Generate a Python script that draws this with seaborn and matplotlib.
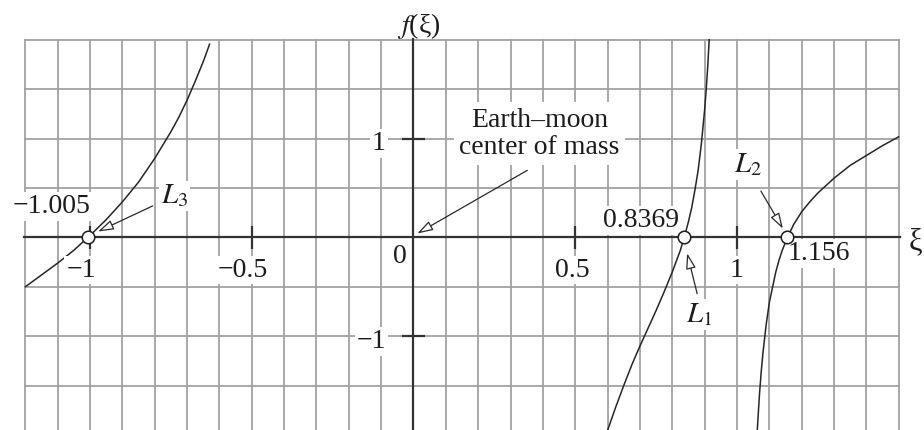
import numpy as np
import pandas as pd
import matplotlib
matplotlib.use("Agg")
import matplotlib.pyplot as plt
import seaborn as sns

# f(xi) along the three branches (left of Earth, between Earth and Moon, beyond Moon)
l3_xi = [-1.2, -1.15, -1.1, -1.05, -1.0, -0.95, -0.9, -0.85, -0.8, -0.75,
         -0.725, -0.7, -0.675, -0.65, -0.63]
l3_f = [-0.50, -0.38, -0.26, -0.13, 0.02, 0.18, 0.36, 0.56, 0.80, 1.07,
        1.22, 1.39, 1.58, 1.78, 1.96]

l1_xi = [0.595, 0.625, 0.65, 0.675, 0.7, 0.725, 0.75, 0.775, 0.8, 0.825,
         0.8369, 0.85, 0.86, 0.87, 0.88, 0.89, 0.9, 0.905, 0.91, 0.915]
l1_f = [-2.0, -1.72, -1.50, -1.29, -1.10, -0.92, -0.74, -0.55, -0.35, -0.13,
        0.0, 0.16, 0.30, 0.48, 0.68, 0.95, 1.29, 1.50, 1.75, 2.06]

l2_xi = [1.062, 1.065, 1.07, 1.075, 1.08, 1.09, 1.1, 1.12, 1.13, 1.14, 1.156,
         1.175, 1.2, 1.225, 1.25, 1.3, 1.35, 1.4, 1.45, 1.5]
l2_f = [-2.0, -1.83, -1.57, -1.36, -1.18, -0.89, -0.66, -0.35, -0.23, -0.13, 0.0,
        0.13, 0.26, 0.36, 0.45, 0.60, 0.73, 0.83, 0.93, 1.02]

# Lagrange point roots of f(xi)
root_xi = [-1.005, 0.8369, 1.156]
root_text = ["\u22121.005", "0.8369", "1.156"]
root_text_xy = [(-1.12, 0.31), (0.704, 0.17), (1.253, -0.16)]

point_names = [r"$L_3$", r"$L_1$", r"$L_2$"]
point_name_xy = [(-0.738, 0.42), (0.883, -0.78), (1.034, 0.74)]
point_arrow_from = [(-0.806, 0.32), (0.877, -0.57), (1.074, 0.47)]
point_arrow_to = [(-0.975, 0.06), (0.846, -0.16), (1.142, 0.09)]

xtick_vals = [-1, -0.5, 0.5, 1]
xtick_text = ["\u22121", "\u22120.5", "0.5", "1"]
xtick_text_x = [-1.028, -0.528, 0.491, 1.0]
ytick_vals = [-1, 1]
ytick_text = ["\u22121", "1"]

branches = pd.DataFrame({
    "xi": l3_xi + l1_xi + l2_xi,
    "f": l3_f + l1_f + l2_f,
    "branch": ["L3"] * len(l3_xi) + ["L1"] * len(l1_xi) + ["L2"] * len(l2_xi),
})

sns.set_style("white")
plt.rcParams["font.family"] = ["Liberation Serif", "DejaVu Serif"]
plt.rcParams["mathtext.fontset"] = "stix"
plt.rcParams["axes.unicode_minus"] = True

ink = "#1c1c1c"
grid_c = "#a2a2a2"
axis_c = "#333333"
fs = 20

fig = plt.figure(figsize=(9.24, 4.30), dpi=100)
ax = fig.add_axes([24 / 924, 0.0, 876 / 924, 391 / 430])

for name in ["L3", "L1", "L2"]:
    sns.lineplot(data=branches[branches["branch"] == name], x="xi", y="f",
                 sort=False, estimator=None, color="#262626", lw=1.1,
                 ax=ax, zorder=4)
ax.set_xlabel("")
ax.set_ylabel("")

ax.set_xlim(-1.2 - 0.004, 1.5 + 0.004)
ax.set_ylim(-1.95, 2.0 + 0.01)

# fine grid: every 0.1 in xi, every 0.5 in f
ax.set_xticks(np.round(np.arange(-1.2, 1.5001, 0.1), 2))
ax.set_yticks(np.arange(-1.5, 2.0001, 0.5))
ax.set_xticklabels([])
ax.set_yticklabels([])
ax.grid(which="major", color=grid_c, lw=1.3, zorder=0)
ax.tick_params(which="both", length=0)

# axes through the origin
for s in ["top", "right"]:
    ax.spines[s].set_visible(False)
ax.spines["left"].set_position("zero")
ax.spines["bottom"].set_position("zero")
for s in ["left", "bottom"]:
    ax.spines[s].set_color(axis_c)
    ax.spines[s].set_linewidth(1.6)
    ax.spines[s].set_zorder(3)

# tick marks straddling the axes
ax.vlines(xtick_vals, -0.12, 0.12, color=axis_c, lw=1.6, zorder=3)
ax.hlines(ytick_vals, -0.037, 0.037, color=axis_c, lw=1.6, zorder=3)

box = dict(facecolor="white", edgecolor="none", pad=1.5)

for xv, xt in zip(xtick_text_x, xtick_text):
    ax.text(xv, -0.33, xt, ha="center", va="center", fontsize=fs, color=ink,
            bbox=box, zorder=5)
ax.text(-0.043, -0.19, "0", ha="center", va="center", fontsize=fs, color=ink,
        bbox=box, zorder=5)
for yv, yt in zip(ytick_vals, ytick_text):
    ax.text(-0.085, yv - 0.05, yt, ha="right", va="center", fontsize=fs,
            color=ink, bbox=box, zorder=5)

ax.text(0.015, 2.14, r"$f$(ξ)", ha="center", va="center", fontsize=fs,
        color=ink, clip_on=False)
ax.text(1.552, -0.04, "ξ", ha="center", va="center", fontsize=fs + 2,
        color=ink, clip_on=False)

# roots
ax.plot(root_xi, [0] * len(root_xi), ls="none", marker="o", ms=9,
        mfc="white", mec="#1c1c1c", mew=1.1, zorder=6)
for (tx, ty), t in zip(root_text_xy, root_text):
    ax.text(tx, ty, t, ha="center", va="center", fontsize=fs, color=ink,
            bbox=box, zorder=5)

arrow = dict(arrowstyle="-|>,head_length=0.95,head_width=0.3",
             fc="white", ec="#2a2a2a", lw=0.9, shrinkA=0, shrinkB=0,
             mutation_scale=10)

for name, nxy, a0, a1 in zip(point_names, point_name_xy, point_arrow_from,
                             point_arrow_to):
    ax.text(nxy[0], nxy[1], name, ha="center", va="center", fontsize=fs + 1,
            color=ink, bbox=box, zorder=5)
    ax.annotate("", xy=a1, xytext=a0, arrowprops=arrow, zorder=6)

ax.text(0.39, 1.05, "Earth\u2013moon\ncenter of mass", ha="center",
        va="center", fontsize=fs, color=ink, linespacing=1.1,
        bbox=dict(facecolor="white", edgecolor="none", pad=4), zorder=5)
ax.annotate("", xy=(0.012, 0.04), xytext=(0.352, 0.68), arrowprops=arrow,
            zorder=6)

fig.savefig("out.png", dpi=100)
